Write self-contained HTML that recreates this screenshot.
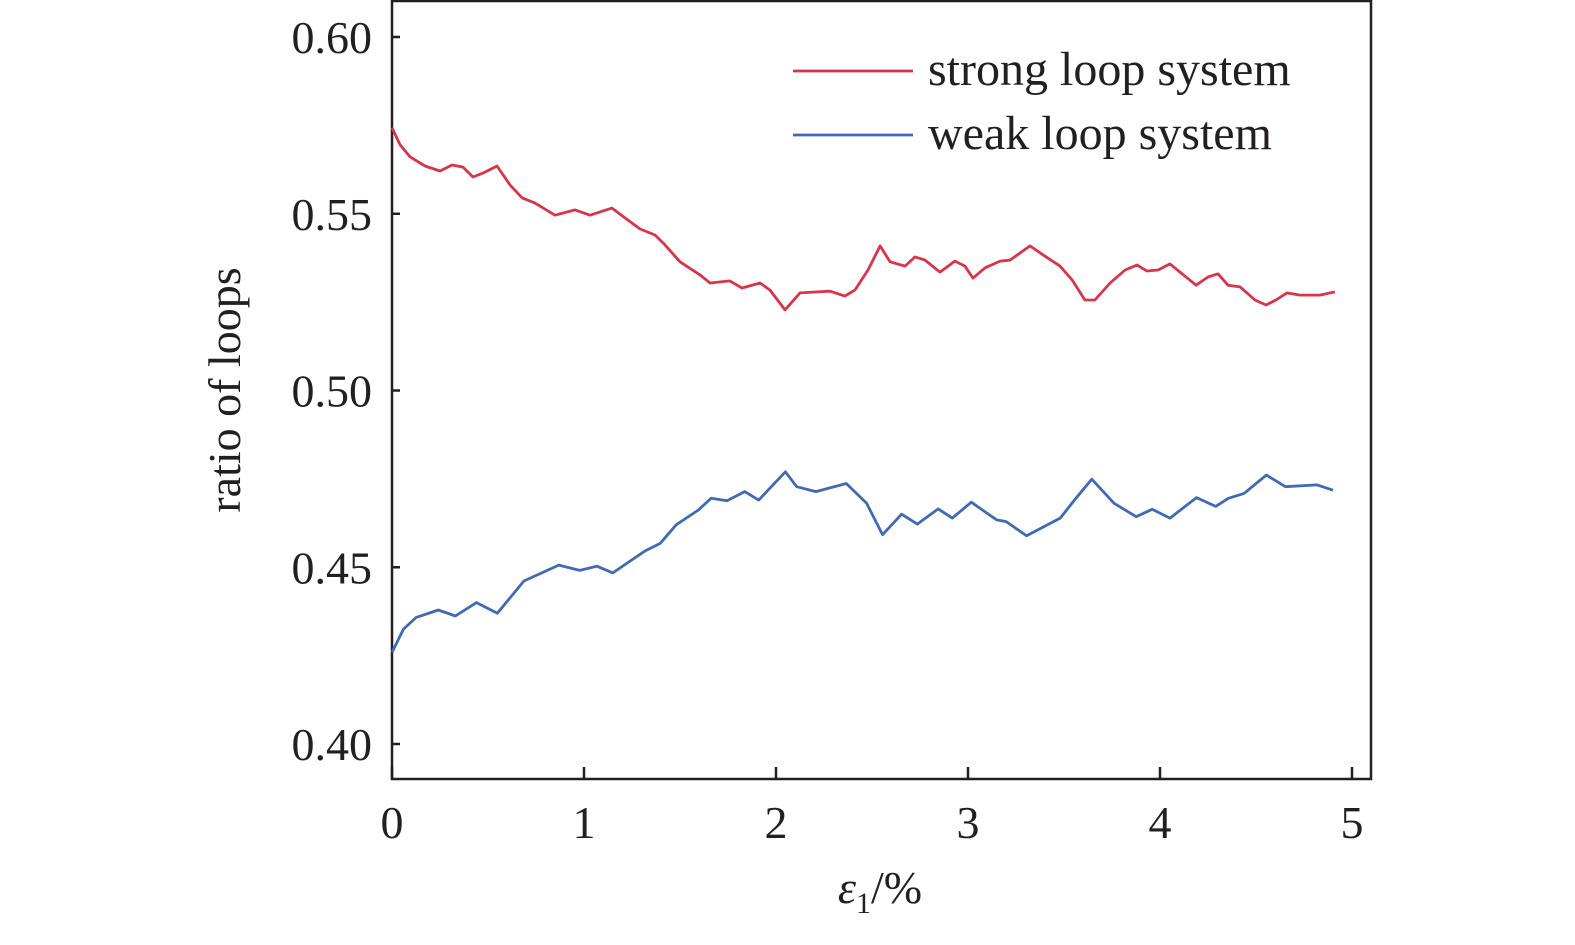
<!DOCTYPE html>
<html><head><meta charset="utf-8"><style>
body{margin:0;background:#fff}
svg text{font-family:"Liberation Serif",serif;fill:#231f20}
</style></head><body>
<svg width="1575" height="940" viewBox="0 0 1575 940" xmlns="http://www.w3.org/2000/svg">
<g id="plot"></g>
</svg>
<script>
const xTicks=[0,1,2,3,4,5];
const yTicks=[0.40,0.45,0.50,0.55,0.60];
const yTickLabels=["0.40","0.45","0.50","0.55","0.60"];
const strongX=[0,.042,.094,.172,.25,.313,.37,.422,.474,.547,.615,.677,.745,.849,.953,1.031,1.146,1.214,1.292,1.37,1.422,1.5,1.604,1.656,1.76,1.823,1.917,1.969,2.047,2.125,2.281,2.359,2.411,2.479,2.542,2.594,2.672,2.724,2.776,2.854,2.932,2.984,3.026,3.089,3.167,3.219,3.323,3.401,3.479,3.542,3.609,3.661,3.74,3.818,3.88,3.932,3.99,4.052,4.115,4.188,4.25,4.302,4.354,4.417,4.495,4.552,4.604,4.661,4.729,4.833,4.911];
const strongY=[.5743,.5695,.5661,.5635,.5621,.5638,.5632,.5604,.5615,.5635,.5581,.5545,.553,.5496,.5511,.5496,.5516,.5488,.5457,.544,.5412,.5364,.5327,.5304,.531,.529,.5304,.5284,.5228,.5276,.5281,.5267,.5284,.5341,.5409,.5364,.5352,.5378,.5369,.5335,.5366,.5352,.5318,.5347,.5366,.5369,.5409,.538,.5352,.5313,.5256,.5256,.5304,.5341,.5355,.5338,.5341,.5358,.533,.5298,.5321,.533,.5298,.5293,.5256,.5242,.5256,.5276,.527,.527,.5279];
const weakX=[0,.06,.126,.241,.33,.44,.549,.687,.869,.978,1.067,1.15,1.315,1.398,1.48,1.596,1.662,1.745,1.837,1.91,2.049,2.108,2.208,2.366,2.472,2.555,2.654,2.736,2.845,2.918,3.017,3.149,3.199,3.305,3.48,3.562,3.645,3.761,3.876,3.959,4.052,4.19,4.29,4.356,4.438,4.554,4.653,4.818,4.901];
const weakY=[.4259,.4325,.4358,.4379,.4362,.44,.437,.4461,.4506,.4491,.4503,.4484,.4545,.4568,.462,.4662,.4695,.4688,.4714,.469,.477,.4728,.4714,.4737,.4681,.4592,.465,.4622,.4665,.4639,.4684,.4634,.4629,.4589,.4639,.4695,.4749,.4681,.4643,.4664,.4639,.4697,.4672,.4695,.4709,.4761,.4728,.4733,.4718];

const NS="http://www.w3.org/2000/svg";
const L=392,R=1371,T=1,B=779;
const sx=v=>392+v*192;
const sy=v=>37+(0.60-v)*3535;
const g=document.getElementById('plot');
function mk(tag,attrs){const e=document.createElementNS(NS,tag);for(const k in attrs)e.setAttribute(k,attrs[k]);g.appendChild(e);return e;}

const frame=mk('rect',{x:L,y:T,width:R-L,height:B-T,fill:'none',stroke:'#231f20','stroke-width':2.5});



xTicks.forEach(t=>{
  const ln=mk('line',{x1:sx(t),x2:sx(t),y1:B,y2:B-12,stroke:'#231f20','stroke-width':2.5});
  
  
  const tx=mk('text',{x:sx(t),y:838,'font-size':46,'text-anchor':'middle'});
  tx.textContent=String(t);
  
  
});
yTicks.forEach((t,i)=>{
  const ln=mk('line',{x1:L,x2:L+8,y1:sy(t),y2:sy(t),stroke:'#231f20','stroke-width':2.5});
  
  
  const tx=mk('text',{x:372,y:sy(t)+16,'font-size':46,'text-anchor':'end'});
  tx.textContent=yTickLabels[i];
  
  
});

function series(xs,ys,color,name){
  const d=xs.map((x,i)=>(i?'L':'M')+sx(x).toFixed(1)+','+sy(ys[i]).toFixed(1)).join(' ');
  const p=mk('path',{d:d,fill:'none',stroke:color,'stroke-width':2.8,'stroke-linejoin':'round'});
  
  
}
series(strongX,strongY,'#d8344a','strong-loop-line');
series(weakX,weakY,'#4169b4','weak-loop-line');

const lg1=mk('line',{x1:793,x2:913,y1:71,y2:71,stroke:'#d8344a','stroke-width':2.8});


const lt1=mk('text',{x:928,y:85,'font-size':48});
lt1.textContent='strong loop system';


const lg2=mk('line',{x1:793,x2:913,y1:135,y2:135,stroke:'#4169b4','stroke-width':2.8});


const lt2=mk('text',{x:928,y:149,'font-size':48});
lt2.textContent='weak loop system';



const yt=mk('text',{x:0,y:0,'font-size':46,'text-anchor':'middle',transform:'translate(240,390) rotate(-90)'});
yt.textContent='ratio of loops';


const xt=mk('text',{x:880,y:903,'font-size':46,'text-anchor':'middle'});
xt.innerHTML='<tspan font-style="italic">ε</tspan><tspan font-size="30" dy="10">1</tspan><tspan dy="-10">/%</tspan>';


</script>
</body></html>
